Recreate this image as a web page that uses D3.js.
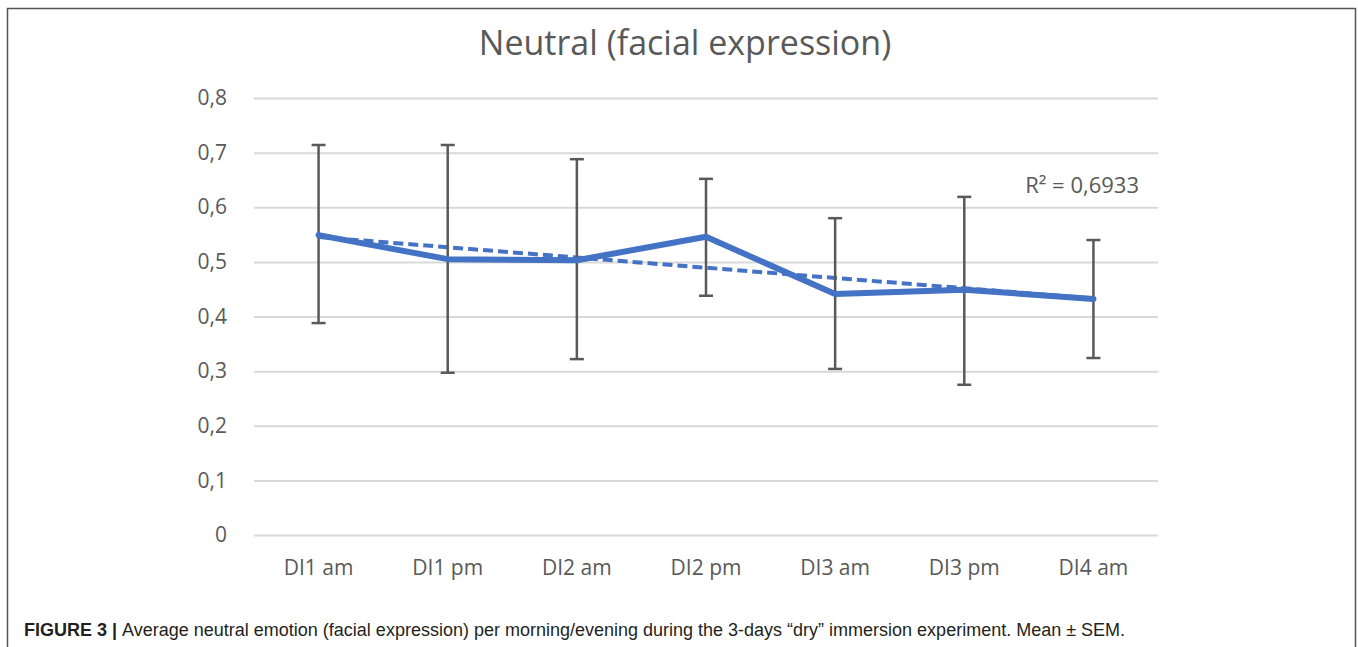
<!DOCTYPE html>
<html>
<head>
<meta charset="utf-8">
<script src="https://d3js.org/d3.v7.min.js"></script>
<style>
  body { margin: 0; background: #fff; }
  .axis text { font-family: "Open Sans", sans-serif; font-size: 21px; fill: #595959; }
  .axis .domain, .axis .tick line { display: none; }
  .gridlines .domain { display: none; }
  .gridlines line { stroke: #d9d9d9; stroke-width: 2px; }
</style>
</head>
<body>
<svg id="chart" width="1358" height="647"></svg>
<script>
  const categories = ["DI1 am", "DI1 pm", "DI2 am", "DI2 pm", "DI3 am", "DI3 pm", "DI4 am"];
  const means = [0.549, 0.505, 0.503, 0.546, 0.441, 0.449, 0.432];
  const upper = [0.714, 0.714, 0.688, 0.652, 0.580, 0.619, 0.540];
  const lower = [0.388, 0.297, 0.322, 0.438, 0.304, 0.275, 0.324];
  const yTicks = [0, 0.1, 0.2, 0.3, 0.4, 0.5, 0.6, 0.7, 0.8];
  const rSquared = "0,6933";

  const svg = d3.select("#chart");
  const margin = { top: 98, right: 200, bottom: 112, left: 254 };
  const chartWidth = 1358 - margin.left - margin.right;
  const chartHeight = 647 - margin.top - margin.bottom;

  // outer frame
  svg.append("rect")
    .attr("x", 7.5).attr("y", 8.5)
    .attr("width", 1348).attr("height", 660)
    .attr("fill", "none").attr("stroke", "#555").attr("stroke-width", 1.5);

  const data = categories.map((c, i) => ({ cat: c, i: i, mean: means[i], hi: upper[i], lo: lower[i] }));

  const xScale = d3.scaleBand().domain(categories).range([0, chartWidth]);
  const yScale = d3.scaleLinear().domain([0, 0.8]).range([chartHeight, 0]);
  const cx = d => xScale(d.cat) + xScale.bandwidth() / 2;

  const chartArea = svg.append("g")
    .attr("transform", `translate(${margin.left},${margin.top})`);

  chartArea.append("g")
    .attr("class", "gridlines")
    .call(d3.axisLeft(yScale).tickValues(yTicks).tickSize(-chartWidth).tickFormat(""));

  const fmt = v => v === 0 ? "0" : d3.format(".1f")(v).replace(".", ",");
  chartArea.append("g")
    .attr("class", "axis")
    .attr("transform", "translate(-24,0)")
    .call(d3.axisLeft(yScale).tickValues(yTicks).tickSize(0).tickFormat(fmt));

  chartArea.append("g")
    .attr("class", "axis")
    .attr("transform", `translate(0,${chartHeight + 22})`)
    .call(d3.axisBottom(xScale).tickSize(0));

  // linear trendline (least squares over category index)
  const mx = d3.mean(data, d => d.i);
  const my = d3.mean(means);
  const slope = d3.sum(data, d => (d.i - mx) * (d.mean - my)) / d3.sum(data, d => (d.i - mx) ** 2);
  const icpt = my - slope * mx;

  chartArea.append("path")
    .datum(data)
    .attr("fill", "none")
    .attr("stroke", "#4472c4")
    .attr("stroke-width", 4)
    .attr("stroke-dasharray", "10,5")
    .attr("d", d3.line().x(cx).y(d => yScale(icpt + slope * d.i)));

  // error bars
  const eb = chartArea.append("g").attr("stroke", "#595959").attr("stroke-width", 2.5);
  eb.selectAll("line.v").data(data).join("line").attr("class", "v")
    .attr("x1", cx).attr("x2", cx)
    .attr("y1", d => yScale(d.hi)).attr("y2", d => yScale(d.lo));
  eb.selectAll("line.t").data(data).join("line").attr("class", "t")
    .attr("x1", d => cx(d) - 7).attr("x2", d => cx(d) + 7)
    .attr("y1", d => yScale(d.hi)).attr("y2", d => yScale(d.hi));
  eb.selectAll("line.b").data(data).join("line").attr("class", "b")
    .attr("x1", d => cx(d) - 7).attr("x2", d => cx(d) + 7)
    .attr("y1", d => yScale(d.lo)).attr("y2", d => yScale(d.lo));

  chartArea.append("path")
    .datum(data)
    .attr("fill", "none")
    .attr("stroke", "#4472c4")
    .attr("stroke-width", 6)
    .attr("stroke-linejoin", "round")
    .attr("stroke-linecap", "round")
    .attr("d", d3.line().x(cx).y(d => yScale(d.mean)));

  svg.append("text")
    .attr("x", 1139).attr("y", 193)
    .attr("text-anchor", "end")
    .style("font-family", "'Open Sans', sans-serif")
    .style("font-size", "22px")
    .style("fill", "#595959")
    .text("R\u00b2 = " + rSquared);

  svg.append("text")
    .attr("x", 685).attr("y", 55)
    .attr("text-anchor", "middle")
    .style("font-family", "'Open Sans', sans-serif")
    .style("font-size", "34px")
    .style("fill", "#595959")
    .text("Neutral (facial expression)");

  const cap = svg.append("text")
    .attr("x", 24).attr("y", 636)
    .style("font-family", "'Liberation Sans', sans-serif")
    .style("font-size", "18px")
    .style("fill", "#231f20");
  cap.append("tspan").style("font-weight", "bold").text("FIGURE 3 | ");
  cap.append("tspan").text("Average neutral emotion (facial expression) per morning/evening during the 3-days \u201cdry\u201d immersion experiment. Mean \u00b1 SEM.");
</script>
</body>
</html>
